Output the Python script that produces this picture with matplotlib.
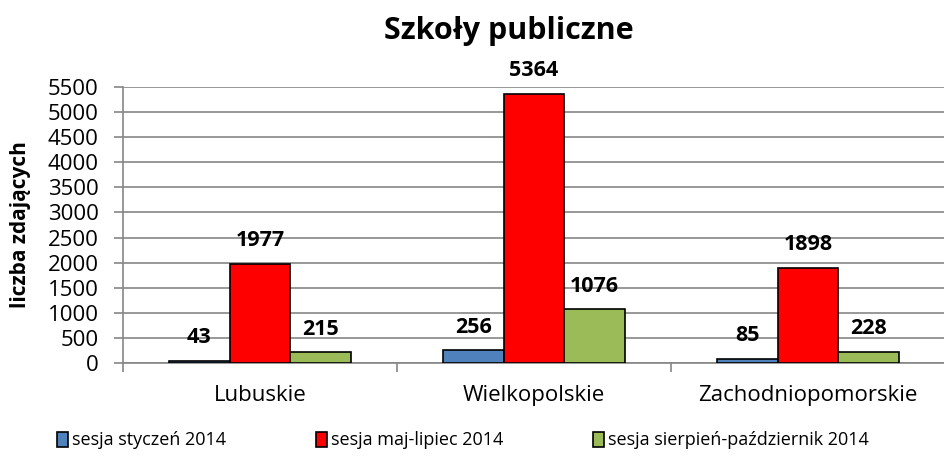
import numpy as np
import matplotlib.pyplot as plt

regions = ['Lubuskie', 'Wielkopolskie', 'Zachodniopomorskie']
sessions = ['sesja styczeń 2014', 'sesja maj-lipiec 2014', 'sesja sierpień-październik 2014']
jan = [43, 256, 85]
may = [1977, 5364, 1898]
aug = [215, 1076, 228]
colors = ['#4F81BD', '#FF0000', '#9BBB59']

plt.rcParams['font.family'] = ['Open Sans', 'DejaVu Sans']

fig = plt.figure(figsize=(9.45, 4.75), dpi=100)
ax = fig.add_axes([0.130, 0.2358, 0.87, 0.581])

x = np.arange(len(regions))
w = 0.221
for i, (vals, lab, c) in enumerate(zip([jan, may, aug], sessions, colors)):
    bars = ax.bar(x + (i - 1) * w, vals, w, color=c, edgecolor='black',
                  linewidth=1.2, label=lab, zorder=3)
    for b, v in zip(bars, vals):
        ax.annotate(str(v), (b.get_x() + b.get_width() / 2, v),
                    xytext=(0, 9), textcoords='offset points',
                    ha='center', va='bottom', fontsize=15.5, fontweight='bold')

ax.set_ylim(0, 5500)
ax.set_yticks(np.arange(0, 5501, 500))
ax.set_xlim(-0.5, 2.436)
ax.set_xticks(x)
ax.set_xticklabels(regions)
ax.set_xticks([-0.5, 0.5, 1.5, 2.5], minor=True)
ax.tick_params(axis='x', which='major', length=0, labelsize=16, pad=16)
ax.tick_params(axis='x', which='minor', length=6.5, color='#868686', width=1.2)
ax.tick_params(axis='y', labelsize=16, length=6.5, color='#868686', width=1.2, pad=11)
ax.grid(axis='y', color='#868686', linewidth=1.2, zorder=0)
for s in ['top', 'right']:
    ax.spines[s].set_visible(False)
for s in ['left', 'bottom']:
    ax.spines[s].set_color('#868686')
    ax.spines[s].set_linewidth(1.2)

ax.set_ylabel('liczba zdających', fontsize=15, fontweight='bold')
ax.yaxis.set_label_coords(-0.112, 0.5)
fig.text(0.538, 0.935, 'Szkoły publiczne', ha='center', va='center',
         fontsize=22, fontweight='bold')

fig.legend(loc='center', bbox_to_anchor=(0.49, 0.073), ncol=3, frameon=False,
           fontsize=13, handlelength=0.6, handleheight=0.9, handletextpad=0.2,
           columnspacing=5.0)

fig.savefig('out.png', dpi=100)
